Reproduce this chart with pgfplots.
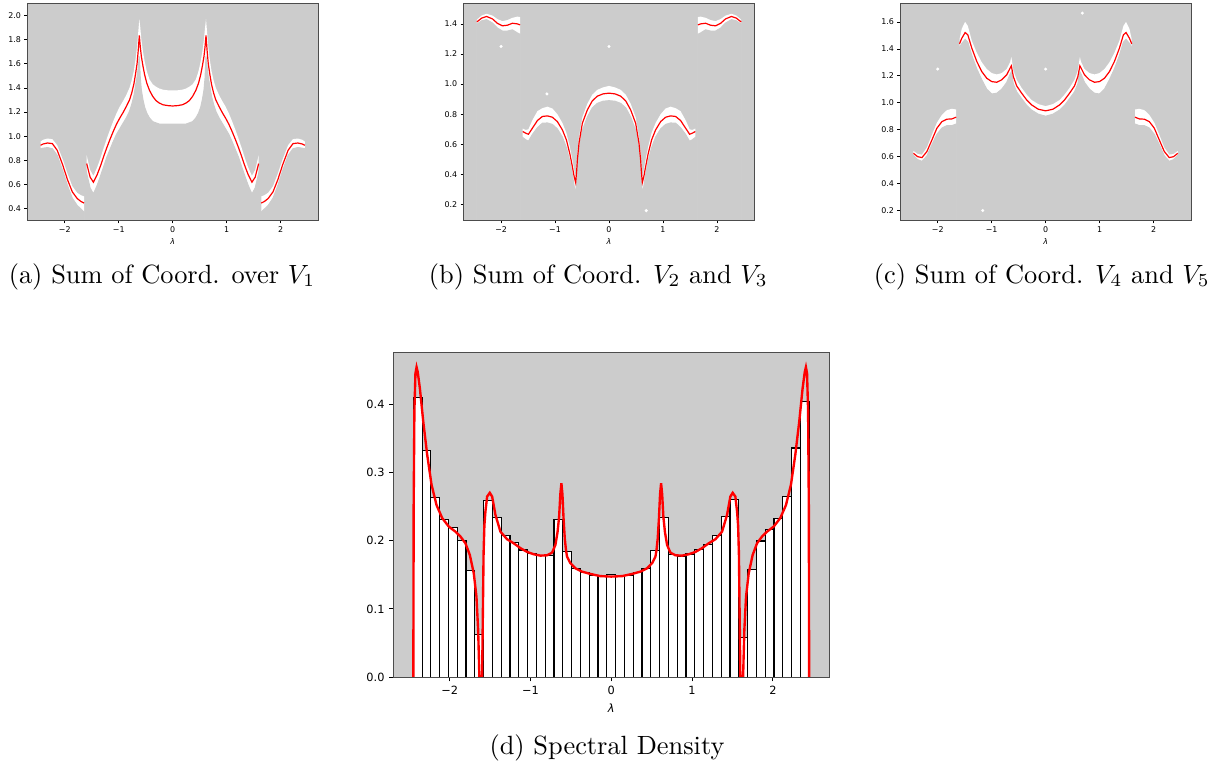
\documentclass[border=0pt]{standalone}
\usepackage{fontspec}
\usepackage{pgfplots}
\usepackage{pgfplotstable}
\pgfplotsset{compat=1.18}
\newfontfamily\dejavu{DejaVu Sans}
\definecolor{bg}{RGB}{204,204,204}

% ---------- data: curve (y) and white cloud bounds (up, lo) ----------
\pgfplotstableread{
x y up lo
-2.449 0.924 0.955 0.895
-2.400 0.935 0.970 0.900
-2.320 0.943 0.980 0.905
-2.230 0.938 0.975 0.895
-2.140 0.883 0.925 0.840
-2.040 0.764 0.810 0.715
-1.950 0.640 0.690 0.590
-1.860 0.538 0.585 0.485
-1.770 0.483 0.530 0.425
-1.700 0.458 0.510 0.395
-1.642 0.445 0.500 0.370
}\aL
\pgfplotstableread{
x y up lo
1.642 0.445 0.500 0.370
1.700 0.458 0.510 0.395
1.770 0.483 0.530 0.425
1.860 0.538 0.585 0.485
1.950 0.640 0.690 0.590
2.040 0.764 0.810 0.715
2.140 0.883 0.925 0.840
2.230 0.938 0.975 0.895
2.320 0.943 0.980 0.905
2.400 0.935 0.970 0.900
2.449 0.924 0.955 0.895
}\aR
\pgfplotstableread{
x y up lo
-1.593 0.772 0.840 0.690
-1.530 0.660 0.720 0.570
-1.469 0.618 0.670 0.520
-1.400 0.680 0.740 0.590
-1.340 0.750 0.815 0.665
-1.280 0.830 0.900 0.745
-1.220 0.905 0.980 0.825
-1.160 0.975 1.055 0.890
-1.100 1.040 1.125 0.955
-1.040 1.100 1.190 1.015
-0.980 1.150 1.245 1.060
-0.920 1.195 1.290 1.105
-0.860 1.245 1.340 1.150
-0.800 1.300 1.400 1.205
-0.760 1.355 1.460 1.260
-0.720 1.430 1.540 1.330
-0.690 1.510 1.630 1.410
-0.660 1.600 1.740 1.490
-0.640 1.700 1.850 1.560
-0.618 1.835 1.970 1.660
-0.600 1.740 1.900 1.480
-0.580 1.660 1.800 1.380
-0.550 1.580 1.700 1.300
-0.520 1.510 1.620 1.240
-0.480 1.440 1.540 1.190
-0.430 1.380 1.470 1.150
-0.370 1.330 1.430 1.120
-0.310 1.295 1.410 1.110
-0.250 1.275 1.395 1.100
-0.180 1.260 1.385 1.100
-0.090 1.253 1.380 1.100
0.000 1.250 1.380 1.100
0.090 1.253 1.380 1.100
0.180 1.260 1.385 1.100
0.250 1.275 1.395 1.100
0.310 1.295 1.410 1.110
0.370 1.330 1.430 1.120
0.430 1.380 1.470 1.150
0.480 1.440 1.540 1.190
0.520 1.510 1.620 1.240
0.550 1.580 1.700 1.300
0.580 1.660 1.800 1.380
0.600 1.740 1.900 1.480
0.618 1.835 1.970 1.660
0.640 1.700 1.850 1.560
0.660 1.600 1.740 1.490
0.690 1.510 1.630 1.410
0.720 1.430 1.540 1.330
0.760 1.355 1.460 1.260
0.800 1.300 1.400 1.205
0.860 1.245 1.340 1.150
0.920 1.195 1.290 1.105
0.980 1.150 1.245 1.060
1.040 1.100 1.190 1.015
1.100 1.040 1.125 0.955
1.160 0.975 1.055 0.890
1.220 0.905 0.980 0.825
1.280 0.830 0.900 0.745
1.340 0.750 0.815 0.665
1.400 0.680 0.740 0.590
1.469 0.618 0.670 0.520
1.530 0.660 0.720 0.570
1.593 0.772 0.840 0.690
}\aM

\pgfplotstableread{
x y up lo
-2.449 1.413 1.428 1.398
-2.360 1.438 1.455 1.420
-2.270 1.449 1.467 1.428
-2.160 1.433 1.455 1.405
-2.070 1.404 1.432 1.372
-1.975 1.387 1.418 1.352
-1.883 1.391 1.425 1.352
-1.790 1.404 1.440 1.360
-1.700 1.400 1.448 1.340
-1.648 1.393 1.445 1.330
}\bL
\pgfplotstableread{
x y up lo
1.648 1.393 1.445 1.330
1.700 1.400 1.448 1.340
1.790 1.404 1.440 1.360
1.883 1.391 1.425 1.352
1.975 1.387 1.418 1.352
2.070 1.404 1.432 1.372
2.160 1.433 1.455 1.405
2.270 1.449 1.467 1.428
2.360 1.438 1.455 1.420
2.449 1.413 1.428 1.398
}\bR
\pgfplotstableread{
x y up lo
-1.599 0.685 0.705 0.645
-1.543 0.674 0.695 0.630
-1.494 0.667 0.700 0.620
-1.420 0.707 0.760 0.665
-1.327 0.758 0.820 0.710
-1.235 0.785 0.840 0.740
-1.142 0.789 0.850 0.742
-1.049 0.780 0.838 0.732
-0.957 0.751 0.800 0.702
-0.864 0.696 0.742 0.648
-0.790 0.630 0.676 0.578
-0.728 0.541 0.588 0.490
-0.679 0.452 0.500 0.400
-0.645 0.385 0.430 0.320
-0.618 0.346 0.380 0.270
-0.600 0.420 0.465 0.360
-0.586 0.497 0.540 0.445
-0.556 0.607 0.650 0.560
-0.494 0.740 0.780 0.692
-0.401 0.829 0.870 0.782
-0.309 0.889 0.930 0.842
-0.216 0.920 0.962 0.872
-0.111 0.935 0.978 0.886
0.000 0.940 0.988 0.890
0.111 0.935 0.978 0.886
0.216 0.920 0.962 0.872
0.309 0.889 0.930 0.842
0.401 0.829 0.870 0.782
0.494 0.740 0.780 0.692
0.556 0.607 0.650 0.560
0.586 0.497 0.540 0.445
0.600 0.420 0.465 0.360
0.618 0.346 0.380 0.270
0.645 0.385 0.430 0.320
0.679 0.452 0.500 0.400
0.728 0.541 0.588 0.490
0.790 0.630 0.676 0.578
0.864 0.696 0.742 0.648
0.957 0.751 0.800 0.702
1.049 0.780 0.838 0.732
1.142 0.789 0.850 0.742
1.235 0.785 0.840 0.740
1.327 0.758 0.820 0.710
1.420 0.707 0.760 0.665
1.494 0.667 0.700 0.620
1.543 0.674 0.695 0.630
1.599 0.685 0.705 0.645
}\bM

\pgfplotstableread{
x y up lo
-2.449 0.625 0.642 0.608
-2.372 0.600 0.620 0.578
-2.292 0.593 0.615 0.565
-2.200 0.638 0.668 0.605
-2.107 0.724 0.762 0.688
-2.015 0.811 0.852 0.765
-1.922 0.860 0.910 0.812
-1.830 0.878 0.945 0.830
-1.738 0.880 0.955 0.830
-1.657 0.893 0.950 0.842
}\cL
\pgfplotstableread{
x y up lo
1.657 0.893 0.950 0.842
1.738 0.880 0.955 0.830
1.830 0.878 0.945 0.830
1.922 0.860 0.910 0.812
2.015 0.811 0.852 0.765
2.107 0.724 0.762 0.688
2.200 0.638 0.668 0.605
2.292 0.593 0.615 0.565
2.372 0.600 0.620 0.578
2.449 0.625 0.642 0.608
}\cR
\pgfplotstableread{
x y up lo
-1.596 1.437 1.470 1.410
-1.553 1.479 1.550 1.440
-1.491 1.521 1.600 1.470
-1.442 1.504 1.570 1.450
-1.368 1.405 1.460 1.350
-1.275 1.306 1.370 1.250
-1.183 1.231 1.300 1.170
-1.091 1.182 1.250 1.100
-0.998 1.157 1.220 1.065
-0.906 1.152 1.210 1.070
-0.813 1.170 1.220 1.100
-0.721 1.207 1.250 1.150
-0.659 1.256 1.300 1.210
-0.635 1.274 1.340 1.230
-0.598 1.194 1.240 1.140
-0.536 1.125 1.170 1.080
-0.444 1.071 1.110 1.030
-0.351 1.021 1.060 0.980
-0.259 0.984 1.020 0.945
-0.136 0.952 0.990 0.915
0.000 0.940 0.975 0.900
0.136 0.952 0.990 0.915
0.259 0.984 1.020 0.945
0.351 1.021 1.060 0.980
0.444 1.071 1.110 1.030
0.536 1.125 1.170 1.080
0.598 1.194 1.240 1.140
0.635 1.274 1.340 1.230
0.659 1.256 1.300 1.210
0.721 1.207 1.250 1.150
0.813 1.170 1.220 1.100
0.906 1.152 1.210 1.070
0.998 1.157 1.220 1.065
1.091 1.182 1.250 1.100
1.183 1.231 1.300 1.170
1.275 1.306 1.370 1.250
1.368 1.405 1.460 1.350
1.442 1.504 1.570 1.450
1.491 1.521 1.600 1.470
1.553 1.479 1.550 1.440
1.596 1.437 1.470 1.410
}\cM

% histogram: left bin edges and heights (last row closes the interval)
\pgfplotstableread{
x h
-2.4495 0.409
-2.3406 0.3325
-2.2317 0.2636
-2.1229 0.2313
-2.0140 0.2191
-1.9051 0.200
-1.7963 0.156
-1.6874 0.063
-1.5785 0.259
-1.4697 0.2337
-1.3608 0.2069
-1.2519 0.197
-1.1431 0.1863
-1.0342 0.1815
-0.9253 0.1785
-0.8165 0.1785
-0.7076 0.2303
-0.5987 0.1844
-0.4899 0.1595
-0.3810 0.153
-0.2722 0.149
-0.1633 0.1488
-0.0544 0.1507
0.0544 0.1473
0.1633 0.149
0.2722 0.153
0.3810 0.1595
0.4899 0.1854
0.5987 0.2337
0.7076 0.180
0.8165 0.1766
0.9253 0.1805
1.0342 0.1873
1.1431 0.1937
1.2519 0.2069
1.3608 0.2357
1.4697 0.2606
1.5785 0.0585
1.6874 0.158
1.7963 0.1995
1.9051 0.2166
2.0140 0.2318
2.1229 0.264
2.2317 0.3355
2.3406 0.404
2.4495 0.404
}\hist

\pgfplotstableread{
x y
-2.449 0
-2.445 0.25
-2.436 0.39
-2.423 0.445
-2.409 0.454
-2.395 0.447
-2.368 0.423
-2.327 0.375
-2.278 0.326
-2.224 0.282
-2.162 0.252
-2.092 0.233
-2.010 0.2205
-1.927 0.213
-1.866 0.206
-1.804 0.196
-1.750 0.179
-1.701 0.152
-1.668 0.118
-1.647 0.069
-1.636 0.02
-1.632 0
-1.598 0
-1.590 0.08
-1.580 0.18
-1.570 0.222
-1.557 0.2425
-1.536 0.2645
-1.503 0.270
-1.474 0.2645
-1.433 0.2377
-1.371 0.213
-1.289 0.202
-1.206 0.196
-1.124 0.189
-1.041 0.1834
-0.959 0.180
-0.877 0.178
-0.794 0.1785
-0.732 0.1824
-0.691 0.1937
-0.665 0.212
-0.645 0.235
-0.630 0.268
-0.617 0.284
-0.604 0.268
-0.590 0.232
-0.575 0.203
-0.560 0.186
-0.547 0.1766
-0.506 0.167
-0.444 0.1595
-0.362 0.1546
-0.259 0.1512
-0.135 0.148
0.000 0.1473
0.135 0.148
0.259 0.1512
0.362 0.1546
0.444 0.1595
0.506 0.167
0.547 0.1766
0.560 0.186
0.575 0.203
0.590 0.232
0.604 0.268
0.617 0.284
0.630 0.268
0.645 0.235
0.665 0.212
0.691 0.1937
0.732 0.1824
0.794 0.1785
0.877 0.178
0.959 0.180
1.041 0.1834
1.124 0.189
1.206 0.196
1.289 0.202
1.371 0.213
1.433 0.2377
1.474 0.2645
1.503 0.270
1.536 0.2645
1.557 0.2425
1.570 0.222
1.580 0.18
1.590 0.08
1.598 0
1.632 0
1.636 0.02
1.647 0.069
1.668 0.118
1.701 0.152
1.750 0.179
1.804 0.196
1.866 0.206
1.927 0.213
2.010 0.2205
2.092 0.233
2.162 0.252
2.224 0.282
2.278 0.326
2.327 0.375
2.368 0.423
2.395 0.447
2.409 0.454
2.423 0.445
2.436 0.39
2.445 0.25
2.449 0
}\dens

\pgfplotsset{
  mpl/.style={
    scale only axis,
    axis background/.style={fill=bg},
    axis line style={black!70},
    axis on top,
    tick align=outside,
    xtick pos=left, ytick pos=left,
    tick style={black},
    tick label style={inner sep=0pt, font=\dejavu},
    xmin=-2.695, xmax=2.695,
    xtick={-2,-1,0,1,2},
    xticklabels={−2,−1,0,1,2},
    xlabel={λ},
    xlabel style={at={(axis description cs:0.5,0)}, anchor=center, inner sep=0pt},
  },
  top/.style={
    mpl,
    width=110.3pt, height=82.2pt,
    axis line style={line width=0.25pt},
    tick style={line width=0.25pt},
    major tick length=1.1pt,
    tick label style={font=\dejavu\fontsize{3.0}{3.6}\selectfont},
    xticklabel shift=1.1pt, yticklabel shift=1.1pt,
    xlabel style={font=\dejavu\itshape\fontsize{3.0}{3.6}\selectfont, yshift=-8pt},
  },
}
% white cloud: fill white under the upper edge, then grey under the lower edge
\newcommand\band[1]{%
  \addplot[fill=white, draw=none] table[x=x, y=up] {#1} \closedcycle;
  \addplot[fill=bg, draw=bg, line width=0.4pt] table[x=x, y=lo] {#1} \closedcycle;
  \addplot[red, line width=0.45pt] table[x=x, y=y] {#1};
}

\begin{document}
\begin{tikzpicture}
\path (0,0) rectangle (462.6pt,292.75pt);

% (a)
\begin{axis}[top, at={(10.2pt,209.1pt)}, anchor=south west,
  ymin=0.30, ymax=2.097,
  ytick={0.4,0.6,0.8,1.0,1.2,1.4,1.6,1.8,2.0},
  yticklabels={0.4,0.6,0.8,1.0,1.2,1.4,1.6,1.8,2.0}]
\band{\aL}
\band{\aM}
\band{\aR}
\end{axis}
\node[anchor=base] at (61.3pt,185.4pt) {(a) Sum of Coord. over $V_1$};

% (b)
\begin{axis}[top, at={(175.7pt,209.1pt)}, anchor=south west,
  ymin=0.094, ymax=1.533,
  ytick={0.2,0.4,0.6,0.8,1.0,1.2,1.4},
  yticklabels={0.2,0.4,0.6,0.8,1.0,1.2,1.4}]
\band{\bL}
\band{\bM}
\band{\bR}
\addplot[only marks, mark=*, mark size=0.35pt, white] coordinates {(-2.0,1.25) (0,1.25) (-1.15,0.935) (0.69,0.16)};
\end{axis}
\node[anchor=base] at (226.8pt,185.4pt) {(b) Sum of Coord. $V_2$ and $V_3$};

% (c)
\begin{axis}[top, at={(341.3pt,209.1pt)}, anchor=south west,
  ymin=0.126, ymax=1.734,
  ytick={0.2,0.4,0.6,0.8,1.0,1.2,1.4,1.6},
  yticklabels={0.2,0.4,0.6,0.8,1.0,1.2,1.4,1.6}]
\band{\cL}
\band{\cM}
\band{\cR}
\addplot[only marks, mark=*, mark size=0.35pt, white] coordinates {(-2.0,1.25) (0,1.25) (0.68,1.665) (-1.165,0.20)};
\end{axis}
\node[anchor=base] at (395.0pt,185.4pt) {(c) Sum of Coord. $V_4$ and $V_5$};

% (d)
\begin{axis}[mpl, at={(149.1pt,35.9pt)}, anchor=south west,
  width=165.2pt, height=123.3pt,
  axis line style={line width=0.37pt},
  tick style={line width=0.37pt},
  major tick length=1.6pt,
  tick label style={font=\dejavu\fontsize{4.3}{5.2}\selectfont},
  xticklabel shift=1.6pt, yticklabel shift=1.6pt,
  xlabel style={font=\dejavu\itshape\fontsize{4.3}{5.2}\selectfont, yshift=-11.8pt},
  ymin=0, ymax=0.476,
  ytick={0,0.1,0.2,0.3,0.4},
  yticklabels={0.0,0.1,0.2,0.3,0.4}]
\addplot[ybar interval, fill=white, draw=black, line width=0.45pt] table[x=x, y=h] {\hist};
\addplot[red, line width=0.9pt] table[x=x, y=y] {\dens};
\end{axis}
\node[anchor=base] at (230.1pt,6.45pt) {(d) Spectral Density};
\end{tikzpicture}
\end{document}
